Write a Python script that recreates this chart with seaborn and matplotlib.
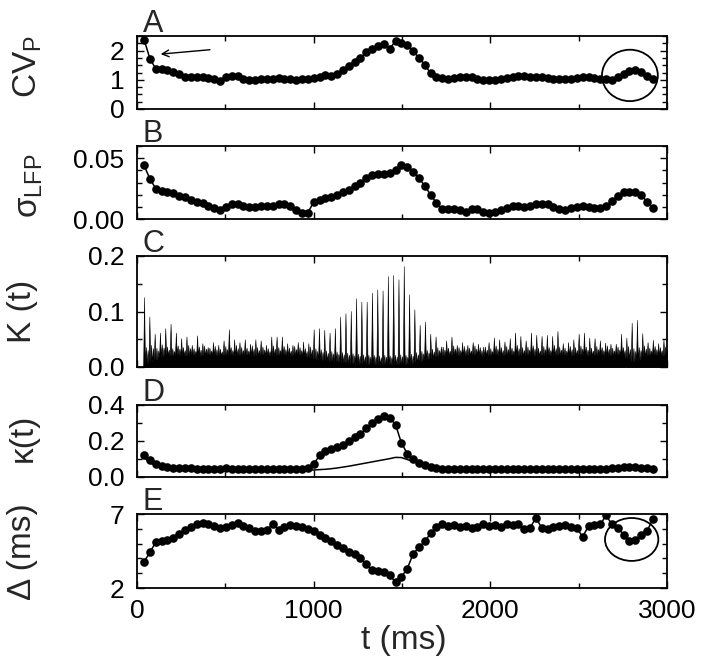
import numpy as np
import matplotlib
matplotlib.use('Agg')
import matplotlib.pyplot as plt
from matplotlib.patches import Ellipse
from matplotlib.ticker import MultipleLocator, FixedLocator, FormatStrFormatter
import seaborn as sns

# time bins (ms) shared by panels A, B, D, E
t_ms = np.linspace(40, 2920, 88)

cv_p = [2.38, 1.72, 1.38, 1.37, 1.32, 1.27, 1.20, 1.10, 1.10, 1.11,
        1.10, 1.07, 1.03, 0.96, 1.10, 1.13, 1.14, 1.03, 1.00, 1.01,
        1.02, 1.02, 1.03, 1.05, 1.03, 1.02, 1.01, 1.03, 1.04, 1.05,
        1.10, 1.15, 1.12, 1.20, 1.33, 1.47, 1.60, 1.75, 1.95, 2.05,
        2.15, 2.22, 2.07, 2.32, 2.25, 2.18, 2.00, 1.75, 1.52, 1.22,
        1.10, 1.05, 1.03, 1.05, 1.10, 1.11, 1.08, 1.03, 1.00, 0.98,
        1.00, 1.03, 1.06, 1.10, 1.12, 1.12, 1.11, 1.10, 1.10, 1.07,
        1.04, 1.02, 1.03, 1.04, 1.07, 1.09, 1.08, 1.06, 1.04, 1.03,
        0.98, 1.08, 1.20, 1.30, 1.33, 1.28, 1.12, 1.02]

sigma_lfp = [0.044, 0.033, 0.025, 0.023, 0.022, 0.021, 0.019, 0.018, 0.016, 0.014,
             0.013, 0.011, 0.009, 0.007, 0.010, 0.012, 0.012, 0.011, 0.010, 0.010,
             0.011, 0.011, 0.011, 0.012, 0.012, 0.011, 0.007, 0.005, 0.005, 0.014,
             0.016, 0.017, 0.018, 0.020, 0.022, 0.024, 0.027, 0.030, 0.034, 0.036,
             0.037, 0.037, 0.038, 0.040, 0.044, 0.043, 0.039, 0.034, 0.027, 0.020,
             0.013, 0.008, 0.008, 0.008, 0.007, 0.006, 0.008, 0.008, 0.006, 0.005,
             0.006, 0.007, 0.009, 0.011, 0.011, 0.010, 0.011, 0.012, 0.012, 0.012,
             0.010, 0.008, 0.007, 0.009, 0.010, 0.011, 0.010, 0.009, 0.009, 0.011,
             0.015, 0.019, 0.022, 0.022, 0.022, 0.020, 0.014, 0.009]

kappa_dots = [0.125, 0.095, 0.075, 0.062, 0.055, 0.052, 0.050, 0.049, 0.048, 0.047,
              0.046, 0.045, 0.044, 0.045, 0.048, 0.047, 0.046, 0.045, 0.046, 0.047,
              0.046, 0.045, 0.046, 0.047, 0.046, 0.045, 0.045, 0.046, 0.048, 0.070,
              0.120, 0.145, 0.155, 0.165, 0.180, 0.200, 0.220, 0.240, 0.270, 0.300,
              0.320, 0.340, 0.330, 0.290, 0.190, 0.130, 0.100, 0.080, 0.065, 0.055,
              0.048, 0.045, 0.044, 0.045, 0.046, 0.045, 0.044, 0.045, 0.046, 0.045,
              0.044, 0.045, 0.046, 0.045, 0.044, 0.045, 0.046, 0.047, 0.046, 0.045,
              0.044, 0.045, 0.046, 0.045, 0.044, 0.045, 0.046, 0.045, 0.044, 0.046,
              0.048, 0.052, 0.055, 0.058, 0.057, 0.052, 0.048, 0.045]

kappa_line = [0.110, 0.080, 0.062, 0.050, 0.044, 0.041, 0.040, 0.039, 0.039, 0.038,
              0.038, 0.037, 0.038, 0.038, 0.039, 0.038, 0.037, 0.038, 0.038, 0.039,
              0.038, 0.037, 0.038, 0.038, 0.039, 0.038, 0.037, 0.038, 0.038, 0.039,
              0.041, 0.043, 0.046, 0.050, 0.055, 0.060, 0.066, 0.072, 0.078, 0.084,
              0.090, 0.096, 0.102, 0.109, 0.108, 0.097, 0.086, 0.075, 0.063, 0.054,
              0.047, 0.043, 0.041, 0.040, 0.040, 0.041, 0.040, 0.039, 0.040, 0.041,
              0.040, 0.039, 0.040, 0.041, 0.040, 0.039, 0.040, 0.041, 0.040, 0.039,
              0.040, 0.041, 0.040, 0.039, 0.040, 0.041, 0.040, 0.039, 0.040, 0.041,
              0.042, 0.046, 0.049, 0.051, 0.050, 0.047, 0.043, 0.040]

delta_ms = [3.78, 4.40, 5.10, 5.15, 5.25, 5.40, 5.65, 5.90, 6.10, 6.30,
            6.40, 6.35, 6.20, 6.05, 6.10, 6.25, 6.38, 6.20, 6.05, 5.85,
            5.85, 5.90, 6.35, 5.95, 6.15, 6.25, 6.20, 6.10, 6.00, 5.85,
            5.60, 5.35, 5.15, 4.90, 4.70, 4.42, 4.28, 4.05, 3.60, 3.22,
            3.15, 3.05, 2.85, 2.40, 2.75, 3.30, 4.30, 4.75, 5.15, 5.70,
            6.10, 6.30, 6.20, 6.25, 6.15, 6.20, 6.05, 6.15, 6.30, 6.20,
            6.25, 6.10, 6.30, 6.25, 6.30, 6.00, 6.05, 6.75, 6.05, 6.00,
            6.10, 6.20, 6.25, 6.10, 6.05, 5.45, 6.20, 6.25, 6.30, 6.90,
            6.30, 6.05, 5.60, 5.15, 5.25, 5.55, 5.85, 6.65]

# panel C: oscillation cycles every 30 ms
cycle_t = np.linspace(40, 2980, 99)
k_peak = [0.126, 0.091, 0.060, 0.062, 0.070, 0.078, 0.062, 0.052, 0.055, 0.040,
          0.057, 0.043, 0.036, 0.045, 0.040, 0.048, 0.068, 0.050, 0.045, 0.050,
          0.042, 0.050, 0.048, 0.040, 0.055, 0.055, 0.055, 0.043, 0.040, 0.045,
          0.046, 0.043, 0.068, 0.070, 0.067, 0.062, 0.070, 0.091, 0.097, 0.101,
          0.124, 0.118, 0.118, 0.134, 0.140, 0.138, 0.164, 0.166, 0.158, 0.182,
          0.131, 0.104, 0.076, 0.082, 0.060, 0.055, 0.037, 0.048, 0.055, 0.040,
          0.045, 0.040, 0.045, 0.042, 0.037, 0.045, 0.053, 0.050, 0.046, 0.052,
          0.062, 0.056, 0.048, 0.062, 0.058, 0.056, 0.058, 0.056, 0.065, 0.043,
          0.045, 0.050, 0.060, 0.062, 0.053, 0.052, 0.048, 0.044, 0.042, 0.042,
          0.060, 0.053, 0.080, 0.085, 0.061, 0.045, 0.049, 0.043, 0.049]
k_minor = [0.036, 0.040, 0.035, 0.041, 0.037, 0.034, 0.039, 0.036, 0.040, 0.034,
           0.037, 0.039, 0.035, 0.038, 0.033, 0.038, 0.036, 0.040, 0.036, 0.035,
           0.039, 0.036, 0.037, 0.034, 0.039, 0.036, 0.038, 0.035, 0.038, 0.036,
           0.034, 0.037, 0.034, 0.032, 0.030, 0.029, 0.028, 0.027, 0.026, 0.025,
           0.024, 0.023, 0.022, 0.022, 0.021, 0.022, 0.021, 0.022, 0.023, 0.022,
           0.024, 0.027, 0.029, 0.031, 0.033, 0.036, 0.037, 0.035, 0.039, 0.036,
           0.038, 0.035, 0.039, 0.036, 0.037, 0.034, 0.039, 0.036, 0.038, 0.035,
           0.040, 0.036, 0.037, 0.039, 0.035, 0.038, 0.036, 0.040, 0.037, 0.035,
           0.038, 0.036, 0.039, 0.037, 0.035, 0.038, 0.036, 0.039, 0.035, 0.037,
           0.036, 0.038, 0.034, 0.036, 0.039, 0.035, 0.038, 0.036, 0.037]
k_floor = [0.006, 0.008, 0.013, 0.018, 0.021, 0.020, 0.022, 0.021, 0.020, 0.022,
           0.021, 0.020, 0.022, 0.021, 0.020, 0.021, 0.022, 0.020, 0.021, 0.022,
           0.021, 0.020, 0.022, 0.021, 0.020, 0.021, 0.022, 0.020, 0.021, 0.022,
           0.019, 0.017, 0.014, 0.012, 0.011, 0.010, 0.009, 0.008, 0.007, 0.006,
           0.005, 0.005, 0.004, 0.004, 0.004, 0.004, 0.004, 0.004, 0.004, 0.004,
           0.005, 0.007, 0.010, 0.013, 0.016, 0.018, 0.020, 0.021, 0.022, 0.021,
           0.020, 0.021, 0.022, 0.021, 0.020, 0.021, 0.022, 0.020, 0.021, 0.022,
           0.021, 0.020, 0.022, 0.021, 0.020, 0.021, 0.022, 0.020, 0.021, 0.022,
           0.021, 0.020, 0.022, 0.021, 0.020, 0.021, 0.022, 0.020, 0.021, 0.022,
           0.021, 0.015, 0.009, 0.012, 0.019, 0.021, 0.022, 0.021, 0.020]

sns.set_style('ticks')
plt.rcParams['font.family'] = ['Liberation Sans', 'DejaVu Sans']
plt.rcParams['mathtext.fontset'] = 'custom'
plt.rcParams['mathtext.rm'] = 'Liberation Sans'
plt.rcParams['mathtext.it'] = 'Liberation Sans:italic'
plt.rcParams['axes.edgecolor'] = 'black'
plt.rcParams['xtick.color'] = 'black'
plt.rcParams['ytick.color'] = 'black'

W, H = 704, 669
fig = plt.figure(figsize=(W / 100, H / 100), dpi=100)

def add_panel(top, bottom):
    return fig.add_axes([137 / W, 1 - bottom / H, 530 / W, (bottom - top) / H])

axA = add_panel(36, 109)
axB = add_panel(146, 219)
axC = add_panel(256, 367)
axD = add_panel(405, 477)
axE = add_panel(514, 588)

def style(ax, ylim, major, minor, fmt, letter):
    ax.set_xlim(0, 3000)
    ax.set_ylim(*ylim)
    ax.xaxis.set_major_locator(MultipleLocator(1000))
    ax.xaxis.set_minor_locator(MultipleLocator(500))
    ax.yaxis.set_major_locator(FixedLocator(major))
    ax.yaxis.set_minor_locator(MultipleLocator(minor))
    ax.yaxis.set_major_formatter(FormatStrFormatter(fmt))
    ax.tick_params(which='both', direction='in', top=True, right=True,
                   width=1.0, labelsize=19)
    ax.tick_params(which='major', length=5)
    ax.tick_params(which='minor', length=3.5)
    ax.tick_params(axis='y', pad=9)
    ax.tick_params(axis='x', pad=8)
    for s in ax.spines.values():
        s.set_linewidth(1.3)
    ax.set_xlabel('')
    ax.set_ylabel('')
    ax.annotate(letter, xy=(0, 1), xycoords='axes fraction', xytext=(4, 3),
                textcoords='offset points', fontsize=22, va='baseline', ha='left')
    if ax is not axE:
        ax.tick_params(axis='x', labelbottom=False)

dot_kw = dict(color='black', marker='o', markersize=6.2, markeredgecolor='black',
              markeredgewidth=0, linewidth=1.1)

sns.lineplot(x=t_ms, y=cv_p, ax=axA, **dot_kw)
style(axA, (0, 2.5), [0, 1, 2], 0.25, '%d', 'A')
axA.annotate('', xy=(134, 1.88), xytext=(413, 2.03),
             arrowprops=dict(arrowstyle='->', color='black', lw=1.0,
                             mutation_scale=12, shrinkA=0, shrinkB=0))
axA.add_patch(Ellipse((2790, 1.15), 316, 1.76, fill=False, color='black', lw=1.3))

sns.lineplot(x=t_ms, y=sigma_lfp, ax=axB, **dot_kw)
style(axB, (0, 0.06), [0, 0.05], 0.01, '%.2f', 'B')

# build the K(t) trace from the per-cycle levels
kx, ky = [], []
for tc, pk, mn, fl in zip(cycle_t, k_peak, k_minor, k_floor):
    kx += [tc - 5, tc, tc + 5, tc + 10, tc + 15, tc + 20]
    ky += [fl, pk, fl, mn, fl, mn * 0.85]
axC.fill_between(kx, 0, ky, color='black', linewidth=0.4, edgecolor='black')
style(axC, (0, 0.2), [0, 0.1, 0.2], 0.05, '%.1f', 'C')

sns.lineplot(x=t_ms, y=kappa_line, ax=axD, color='black', linewidth=1.1)
sns.lineplot(x=t_ms, y=kappa_dots, ax=axD, **dot_kw)
style(axD, (0, 0.4), [0, 0.2, 0.4], 0.1, '%.1f', 'D')

sns.lineplot(x=t_ms, y=delta_ms, ax=axE, **dot_kw)
style(axE, (2, 7), [2, 7], 1, '%d', 'E')
axE.add_patch(Ellipse((2800, 5.28), 302, 2.9, fill=False, color='black', lw=1.3))

fig.text(404 / W, 1 - 640 / H, 't (ms)', fontsize=24, ha='center', va='center')

ylabels = [('CV$_\\mathrm{P}$', 28, 67), ('σ$_\\mathrm{LFP}$', 30, 186),
           ('K (t)', 23, 311), ('κ(t)', 23, 438), ('Δ (ms)', 22, 552)]
for txt, px, py in ylabels:
    fig.text(px / W, 1 - py / H, txt, fontsize=24, rotation=90,
             ha='center', va='center')

fig.savefig('out.png', dpi=100)
